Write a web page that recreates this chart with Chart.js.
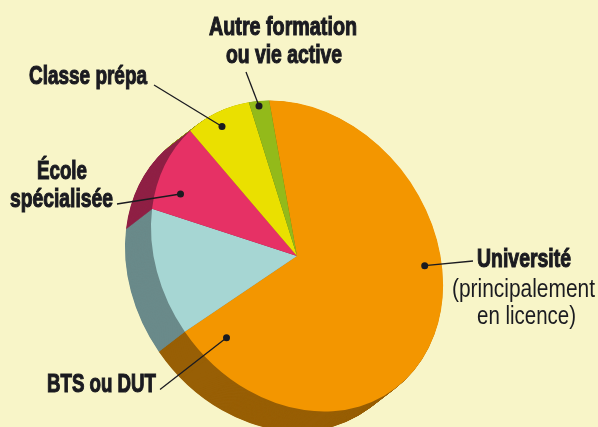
<!DOCTYPE html>
<html><head><meta charset="utf-8">
<style>html,body{margin:0;padding:0;background:#F8F5C8;overflow:hidden}#w{position:relative;width:598px;height:427px}</style>
<script src="https://cdn.jsdelivr.net/npm/chart.js@4"></script>
</head><body><div id="w"><canvas id="c" width="598" height="427"></canvas></div>
<script>
const categories = ["Université","BTS ou DUT","École spécialisée","Classe prépa","Autre formation ou vie active"];
const shares = [67, 13, 10, 7.7, 2.3];
const colors = ["#F39600","#A6D6D3","#E63165","#EAE000","#93BA1A"];
const sideColors = ["#985F05","#6A8A8A","#8F2045","#8C8A10","#5C7010"];
const FONT = "'Liberation Sans',sans-serif";
const INK = "#1B1B20";
const tilt = [0.969,0.0932,0.0932,1.0325];
const depth = [-26,20];
const labels = [
 ["Autre formation",283,35,148,true],["ou vie active",284,62.5,116,true],
 ["Classe prépa",88,84,118,true],
 ["École",62,179,50,true],["spécialisée",61.5,207,103,true],
 ["BTS ou DUT",101.5,392,109,true],
 ["Université",524,267,94,true],["(principalement",523.5,297,143,false],["en licence)",526.5,324,99,false]
];
const leaders = [[246,72,259,106],[154,85,222,126.5],[117,204,180.5,194],[160,389.5,226.5,337.7],[473,261,424.7,265.7]];
function applyTilt(ctx,a,dx,dy){
  ctx.translate(a.x+dx,a.y+dy);
  ctx.transform(tilt[0],tilt[1],tilt[2],tilt[3],0,0);
  ctx.translate(-a.x,-a.y);
}
const pie3d = {
  id:"pie3d",
  beforeDatasetsDraw(chart){
    const ctx=chart.ctx, arcs=chart.getDatasetMeta(0).data, N=60;
    for(let s=N;s>=1;s--){
      arcs.forEach((a,i)=>{
        const ghost=Object.create(a);
        ghost.options=Object.create(a.options,{backgroundColor:{value:sideColors[i]}});
        ctx.save();
        applyTilt(ctx,a,depth[0]*s/N,depth[1]*s/N);
        ghost.draw(ctx);
        ctx.restore();
      });
    }
  },
  beforeDatasetDraw(chart){
    chart.ctx.save();
    applyTilt(chart.ctx,chart.getDatasetMeta(0).data[0],0,0);
  },
  afterDatasetDraw(chart){ chart.ctx.restore(); },
  afterDraw(chart){
    const ctx=chart.ctx;
    ctx.save();
    ctx.strokeStyle=INK; ctx.fillStyle=INK; ctx.lineWidth=1.3;
    leaders.forEach(l=>{
      ctx.beginPath();ctx.moveTo(l[0],l[1]);ctx.lineTo(l[2],l[3]);ctx.stroke();
      ctx.beginPath();ctx.arc(l[2],l[3],3.5,0,Math.PI*2);ctx.fill();
    });
    ctx.textBaseline="alphabetic";
    ctx.textAlign="center";
    labels.forEach(t=>{
      ctx.font=(t[4]?"bold ":"")+"25px "+FONT;
      ctx.fillText(t[0],t[1],t[2],t[3]);
      if(t[4]){ctx.lineWidth=1.1;ctx.strokeText(t[0],t[1],t[2],t[3]);}
    });
    ctx.restore();
  }
};
new Chart(document.getElementById("c"),{
  type:"pie",
  data:{labels:categories,datasets:[{data:shares,backgroundColor:colors,borderWidth:0}]},
  options:{
    responsive:false,animation:false,rotation:-5.5,radius:150,
    layout:{padding:{left:0,right:4,top:85,bottom:0}},
    events:[],
    plugins:{legend:{display:false},tooltip:{enabled:false}}
  },
  plugins:[pie3d]
});
</script></body></html>
